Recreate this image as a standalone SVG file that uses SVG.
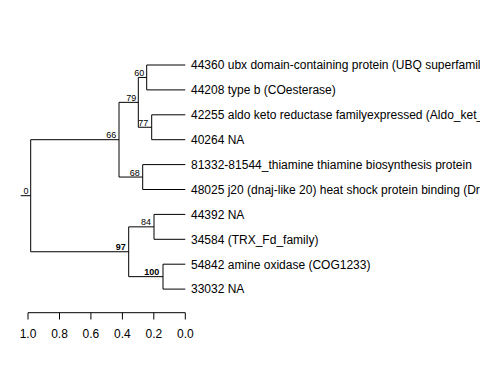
<svg xmlns="http://www.w3.org/2000/svg" width="480" height="384" viewBox="0 0 480 384">
<style>
.e{fill:none;stroke:#000;stroke-width:1}
.lf{font-family:"Liberation Sans",Arial,sans-serif;font-size:12px;fill:#000}
.bs{font-family:"Liberation Sans",Arial,sans-serif;font-size:9px;fill:#000;text-anchor:end}
.bb{font-weight:bold}
.ax{font-family:"Liberation Sans",Arial,sans-serif;font-size:12px;fill:#000;text-anchor:middle}
</style>
<rect width="480" height="384" fill="#fff"/>
<g id="connectors">
<path class="e" d="M20.7,195.7H30.7M30.7,139.7V251.75"/>
<path class="e" d="M30.7,139.7H119M119,102.35V177.05"/>
<path class="e" d="M119,102.35H138.3M138.3,77.45V127.25"/>
<path class="e" d="M138.3,77.45H146.7M146.7,65V89.9"/>
<path class="e" d="M138.3,127.25H151.7M151.7,114.8V139.7"/>
<path class="e" d="M119,177.05H142.7M142.7,164.6V189.5"/>
<path class="e" d="M30.7,251.75H128.7M128.7,226.85V276.65"/>
<path class="e" d="M128.7,226.85H154M154,214.4V239.3"/>
<path class="e" d="M128.7,276.65H163M163,264.2V289.1"/>
<path class="e" d="M146.7,65H185.3M146.7,89.9H185.3M151.7,114.8H185.3M151.7,139.7H185.3M142.7,164.6H185.3M142.7,189.5H185.3M154,214.4H185.3M154,239.3H185.3M163,264.2H185.3M163,289.1H185.3"/>
</g>
<g id="bootstrap">
<text class="bs" x="28.5" y="194.3">0</text>
<text class="bs" x="116.3" y="138.3">66</text>
<text class="bs" x="136.3" y="100.8">79</text>
<text class="bs" x="144.3" y="75.8">60</text>
<text class="bs" x="148.3" y="125.8">77</text>
<text class="bs" x="139.8" y="175.5">68</text>
<text class="bs bb" x="125.8" y="250.3">97</text>
<text class="bs" x="151" y="225.3">84</text>
<text class="bs bb" x="159.3" y="275.3">100</text>
</g>
<g id="n1"><text class="lf" x="191" y="69.3">44360 ubx domain-containing protein (UBQ superfamil</text></g>
<g id="n2"><text class="lf" x="191" y="94.2">44208 type b (COesterase)</text></g>
<g id="n3"><text class="lf" x="191" y="119.1">42255 aldo keto reductase familyexpressed (Aldo_ket_</text></g>
<g id="n4"><text class="lf" x="191" y="144">40264 NA</text></g>
<g id="n5"><text class="lf" x="191" y="168.9">81332-81544_thiamine thiamine biosynthesis protein</text></g>
<g id="n6"><text class="lf" x="191" y="193.8">48025 j20 (dnaj-like 20) heat shock protein binding (Dr</text></g>
<g id="n7"><text class="lf" x="191" y="218.7">44392 NA</text></g>
<g id="n8"><text class="lf" x="191" y="243.6">34584 (TRX_Fd_family)</text></g>
<g id="n9"><text class="lf" x="191" y="268.5">54842 amine oxidase (COG1233)</text></g>
<g id="n10"><text class="lf" x="191" y="293.4">33032 NA</text></g>
<g id="axis">
<path class="e" d="M28,312.7H185.3M28,312.7V319.5M59.5,312.7V319.5M90.9,312.7V319.5M122.4,312.7V319.5M153.8,312.7V319.5M185.3,312.7V319.5"/>
<text class="ax" x="28" y="338">1.0</text>
<text class="ax" x="59.5" y="338">0.8</text>
<text class="ax" x="90.9" y="338">0.6</text>
<text class="ax" x="122.4" y="338">0.4</text>
<text class="ax" x="153.8" y="338">0.2</text>
<text class="ax" x="185.3" y="338">0.0</text>
</g>
</svg>
